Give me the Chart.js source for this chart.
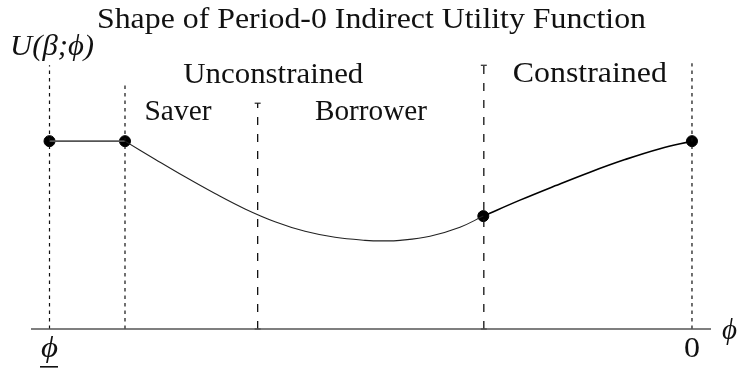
<!doctype html>
<html lang="en">
<head>
    <meta charset="UTF-8"/>
    <script src="https://cdn.jsdelivr.net/npm/chart.js@4.4.1/dist/chart.umd.min.js"></script>
    <title>Shape of Period-0 Indirect Utility Function</title>
    <style>
        body { margin: 0; background: #fff; }
        #wrap { width: 738px; height: 373px; }
    </style>
</head>
<body>
<div id="wrap"><canvas id="utilityChart" width="738" height="373"></canvas></div>

<script>
    // phi axis: 0 = lower bound (phi underline), 100 = zero
    const leftCurveX = [11.75, 16.42, 21.09, 25.76, 30.43, 35.10, 39.77, 44.44, 49.11, 51.91, 54.56, 59.22, 63.89, 67.52];
    const leftCurveY = [100, 90.4, 81.0, 72.1, 63.9, 57.1, 52.0, 48.8, 47.2, 46.9, 47.2, 49.4, 54.2, 60.1];

    const rightCurveX = [67.52, 73.23, 78.68, 84.12, 89.57, 95.02, 100];
    const rightCurveY = [60.1, 68.6, 76.2, 83.5, 90.2, 96.0, 100];

    const flatX = [0, 11.75];
    const flatY = [100, 100];

    const markerX = [0, 11.75, 67.52, 100];
    const markerY = [100, 100, 60.1, 100];

    const dividerX = [0, 11.75, 32.4, 67.6, 100];
    const dividerTop = [140.4, 130.9, 120.2, 140.4, 141.5];
    const dividerKind = ['dotted', 'dotted', 'dashed', 'dashed', 'dotted'];

    const regionNames = ['Unconstrained', 'Saver', 'Borrower', 'Constrained'];
    const regionX = [34.83, 20.0, 50.04, 84.1];
    const regionY = [130.9, 111.2, 111.2, 131.4];
    const regionWidth = [180, 67, 112, 154];

    const tickLabels = ['ϕ', '0'];
    const tickX = [0, 100];

    const serif = '"Liberation Serif", "DejaVu Serif", serif';
    const fontPx = 29;

    const toPts = (xs, ys) => xs.map((x, i) => ({x: x, y: ys[i]}));

    const datasets = [];

    // horizontal phi axis
    datasets.push({
        data: [{x: -2.88, y: 0}, {x: 102.96, y: 0}],
        showLine: true,
        borderColor: '#555',
        borderWidth: 1.4,
        pointRadius: 0
    });

    dividerX.forEach((x, i) => {
        const dashed = dividerKind[i] === 'dashed';
        datasets.push({
            data: [{x: x, y: 0}, {x: x, y: dividerTop[i]}],
            showLine: true,
            borderColor: '#111',
            borderWidth: dashed ? 1.3 : 1.2,
            borderDash: dashed ? [8, 9] : [3.5, 4],
            pointStyle: 'line',
            pointRadius: dashed ? 3 : 0,
            pointBorderWidth: 1.1,
            pointBorderColor: '#111'
        });
    });

    datasets.push({
        data: toPts(flatX, flatY),
        showLine: true,
        borderColor: '#555',
        borderWidth: 1.8,
        pointRadius: 0
    });

    datasets.push({
        data: toPts(leftCurveX, leftCurveY),
        showLine: true,
        borderColor: '#222',
        borderWidth: 1.1,
        tension: 0.4,
        pointRadius: 0
    });

    datasets.push({
        data: toPts(rightCurveX, rightCurveY),
        showLine: true,
        borderColor: '#000',
        borderWidth: 1.6,
        tension: 0.4,
        pointRadius: 0
    });

    datasets.push({
        data: toPts(markerX, markerY),
        showLine: false,
        pointRadius: 5.5,
        pointBackgroundColor: '#000',
        pointBorderColor: '#000'
    });

    // draw centred text stretched to the width it has in the figure
    function fitText(ctx, text, cx, y, width) {
        const w = ctx.measureText(text).width;
        ctx.save();
        ctx.translate(cx, y);
        ctx.scale(width / w, 1);
        ctx.textAlign = 'center';
        ctx.fillText(text, 0, 0);
        ctx.restore();
    }

    const textPlugin = {
        id: 'texts',
        afterDraw(chart) {
            const ctx = chart.ctx;
            const xs = chart.scales.x, ys = chart.scales.y;
            ctx.save();
            ctx.fillStyle = '#111';
            ctx.textBaseline = 'alphabetic';

            ctx.font = fontPx + 'px ' + serif;
            fitText(ctx, 'Shape of Period-0 Indirect Utility Function', 371.5, 27.5, 549);

            regionNames.forEach((name, i) => {
                fitText(ctx, name, xs.getPixelForValue(regionX[i]), ys.getPixelForValue(regionY[i]), regionWidth[i]);
            });

            // y label
            ctx.font = 'italic ' + fontPx + 'px ' + serif;
            fitText(ctx, 'U(β;ϕ)', 52, 55, 84);

            // x ticks
            const base = ys.getPixelForValue(0);
            tickLabels.forEach((t, i) => {
                const px = xs.getPixelForValue(tickX[i]);
                ctx.font = (t === '0' ? '' : 'italic ') + fontPx + 'px ' + serif;
                fitText(ctx, t, px, base + 28, t === '0' ? 16 : 17);
                if (t !== '0') {
                    ctx.fillRect(px - 9.5, base + 37, 18, 1.6);
                }
            });

            // axis name
            ctx.font = 'italic ' + fontPx + 'px ' + serif;
            fitText(ctx, 'ϕ', xs.right + 18.5, base + 10, 15);
            ctx.restore();
        }
    };

    new Chart(document.getElementById('utilityChart'), {
        type: 'scatter',
        data: {datasets: datasets},
        plugins: [textPlugin],
        options: {
            responsive: false,
            animation: false,
            clip: false,
            layout: {padding: {left: 31, right: 27, top: 66, bottom: 44}},
            plugins: {legend: {display: false}, tooltip: {enabled: false}},
            scales: {
                x: {type: 'linear', display: false, min: -2.88, max: 102.96},
                y: {type: 'linear', display: false, min: 0, max: 140}
            }
        }
    });
</script>
</body>
</html>
